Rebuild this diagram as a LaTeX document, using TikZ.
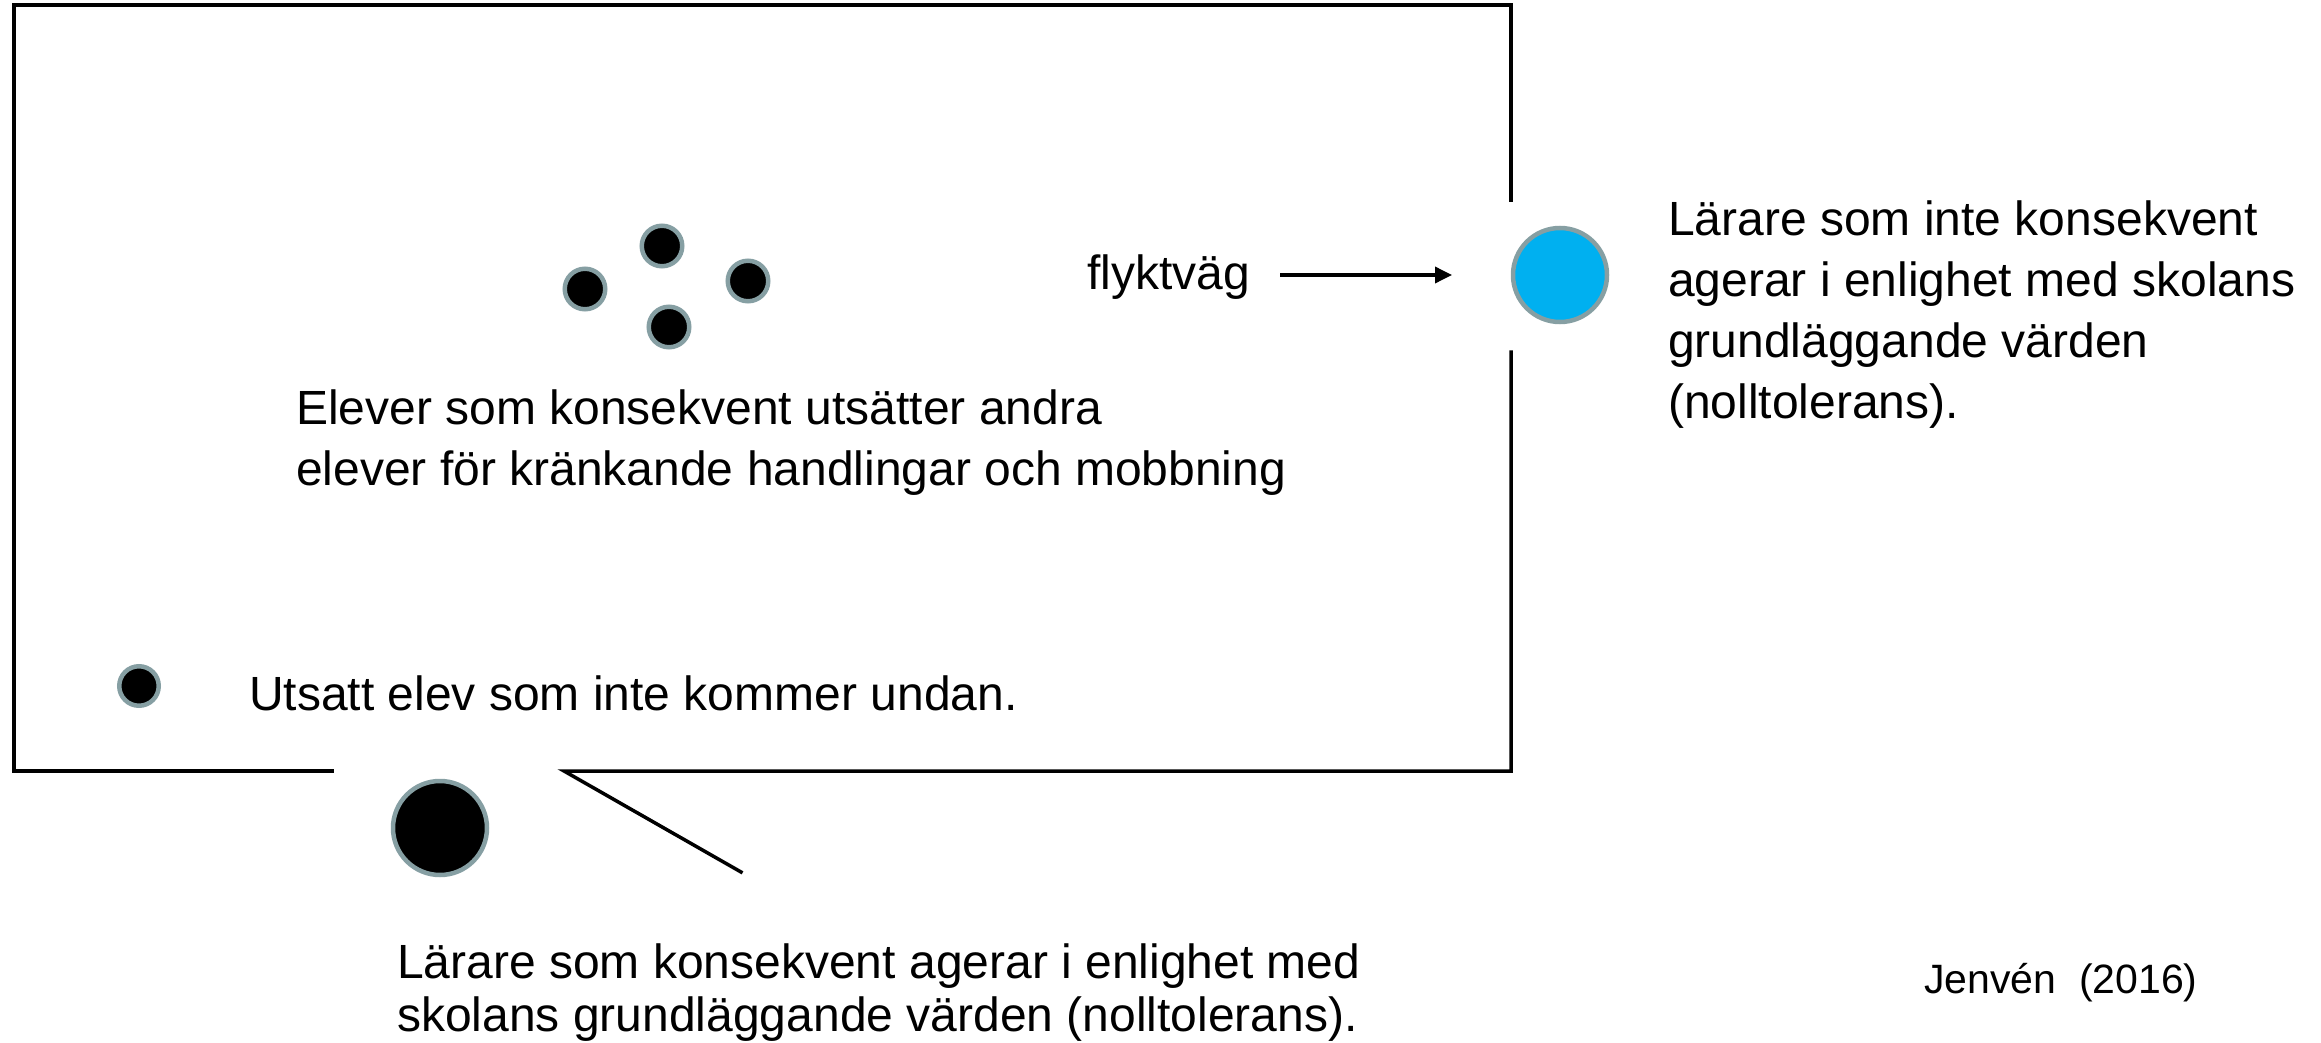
\documentclass[tikz,border=0pt]{standalone}
\usepackage{fontspec}
\setmainfont{Liberation Sans}
\usetikzlibrary{arrows.meta}
\definecolor{ringgray}{RGB}{134,159,163}
\definecolor{skyblue}{RGB}{0,176,240}
\begin{document}
\begin{tikzpicture}[x=1pt,y=-1pt,
  frame/.style={line width=3.5pt,line cap=rect},
  dot/.style={circle,draw=ringgray,line width=4.5pt,fill=black,inner sep=0pt,minimum size=#1},
  bluedot/.style={circle,draw=ringgray,line width=4.5pt,fill=skyblue,inner sep=0pt,minimum size=#1},
  txt/.style={inner sep=0pt,align=left,font=\fontsize{48}{61}\selectfont},
  txtb/.style={inner sep=0pt,align=left,font=\fontsize{48}{53}\selectfont}
]
\useasboundingbox (0,0) rectangle (2321,1043);
% frame
\coordinate (tl) at (14,5);
\coordinate (tr) at (1511,5);
\coordinate (rgapTop) at (1511,200);
\coordinate (rgapBot) at (1511,352);
\coordinate (br) at (1511,771);
\coordinate (bl) at (14,771);
\coordinate (bgapL) at (332,771);
\coordinate (bgapR) at (564,771);
\coordinate (tail) at (741,872);
\draw[frame] (rgapTop) -- (tr) -- (tl) -- (bl) -- (bgapL);
\draw[frame,line join=miter] (tail) -- (bgapR) -- (br) -- (rgapBot);
% bullies
\node[dot=40.5pt] (b1) at (585,289) {};
\node[dot=40.5pt] (b2) at (662,246) {};
\node[dot=40.5pt] (b3) at (748,281) {};
\node[dot=40.5pt] (b4) at (669,327) {};
\node[txt,anchor=north west] (elever) at (296,386) {\rule{0pt}{38.5pt}Elever som konsekvent utsätter andra\\elever för kränkande handlingar och mobbning};
% victim
\node[dot=39.5pt] (victim) at (139,686) {};
\node[txt,anchor=base west] (utsatt) at (249,710) {Utsatt elev som inte kommer undan.};
% escape
\node[txt,anchor=base west] (flykt) at (1087,289) {flyktväg};
\coordinate (a1) at (1280,275);
\coordinate (a2) at (1452,275);
\draw[line width=3.5pt,-{Triangle[length=17pt,width=16pt]}] (a1) -- (a2);
\node[bluedot=94pt] (blue) at (1560,275) {};
\node[txt,anchor=north west] (right) at (1668,196.5) {\rule{0pt}{38.5pt}Lärare som inte konsekvent\\agerar i enlighet med skolans\\grundläggande värden\\(nolltolerans).};
% consistent teacher
\node[dot=94pt] (teacher) at (440,828) {};
\node[txtb,anchor=north west] (bottom) at (397,940) {\rule{0pt}{38.5pt}Lärare som konsekvent agerar i enlighet med\\skolans grundläggande värden (nolltolerans).};
\node[inner sep=0pt,anchor=base west,font=\fontsize{41}{47}\selectfont] (src) at (1924,993) {Jenvén\ \ (2016)};
\end{tikzpicture}
\end{document}
